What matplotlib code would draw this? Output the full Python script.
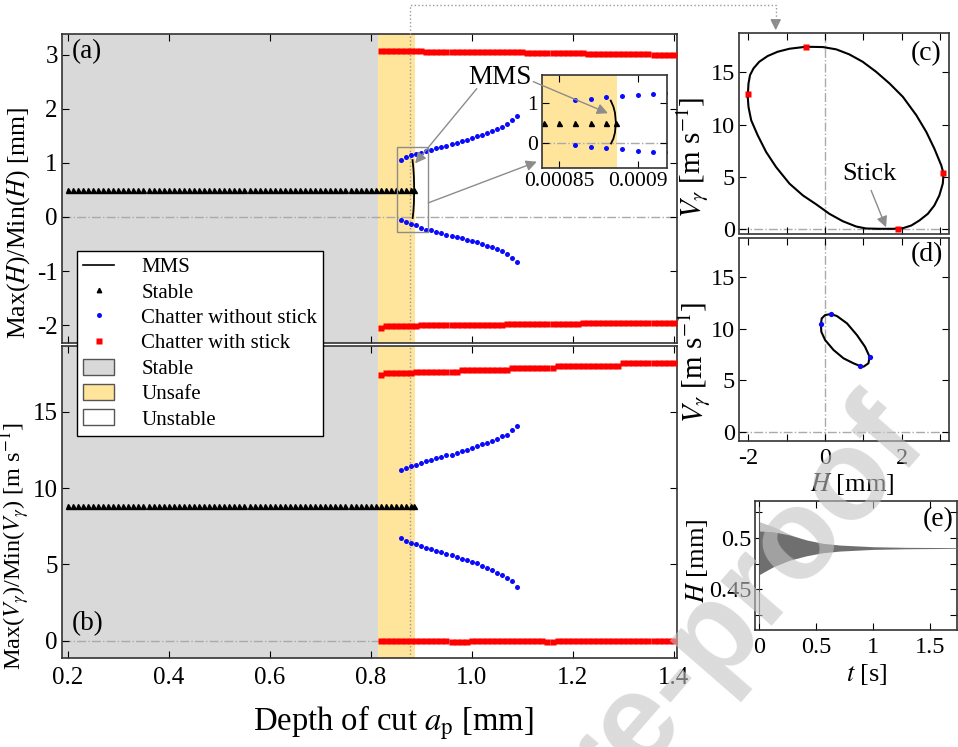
import numpy as np
import matplotlib
matplotlib.use('Agg')
import matplotlib.pyplot as plt
from matplotlib.lines import Line2D
from matplotlib.patches import Patch, Rectangle, FancyArrowPatch

plt.rcParams['font.family'] = ['Liberation Serif', 'DejaVu Serif']
plt.rcParams['mathtext.fontset'] = 'stix'
plt.rcParams['axes.unicode_minus'] = False
plt.rcParams['xtick.direction'] = 'in'
plt.rcParams['ytick.direction'] = 'in'
plt.rcParams['xtick.top'] = True
plt.rcParams['ytick.right'] = True

# ---------------- data ----------------
stable_ap = [0.20, 0.21, 0.22, 0.23, 0.24, 0.25, 0.26, 0.27, 0.28, 0.29,
             0.30, 0.31, 0.32, 0.33, 0.34, 0.35, 0.36, 0.37, 0.38, 0.39,
             0.40, 0.41, 0.42, 0.43, 0.44, 0.45, 0.46, 0.47, 0.48, 0.49,
             0.50, 0.51, 0.52, 0.53, 0.54, 0.55, 0.56, 0.57, 0.58, 0.59,
             0.60, 0.61, 0.62, 0.63, 0.64, 0.65, 0.66, 0.67, 0.68, 0.69,
             0.70, 0.71, 0.72, 0.73, 0.74, 0.75, 0.76, 0.77, 0.78, 0.79,
             0.80, 0.81, 0.82, 0.83, 0.84, 0.85, 0.86, 0.87, 0.88, 0.886]
stable_H = 0.50      # Max(H) = Min(H) for stable cutting [mm]
stable_V = 8.82      # Max(V) = Min(V) for stable cutting [m/s]

chatter_ap = [0.86, 0.87, 0.88, 0.89, 0.90, 0.91, 0.92, 0.93, 0.94, 0.95, 0.96, 0.97,
              0.98, 0.99, 1.00, 1.01, 1.02, 1.03, 1.04, 1.05, 1.06, 1.07, 1.08, 1.09]
chatter_Hmax = [1.06, 1.10, 1.14, 1.165, 1.19, 1.21, 1.245, 1.27, 1.30, 1.32, 1.34, 1.36,
                1.40, 1.42, 1.46, 1.49, 1.52, 1.55, 1.58, 1.62, 1.67, 1.71, 1.79, 1.87]
chatter_Hmin = [-0.06, -0.10, -0.135, -0.15, -0.20, -0.235, -0.245, -0.27, -0.295, -0.325, -0.35, -0.37,
                -0.39, -0.43, -0.45, -0.47, -0.50, -0.535, -0.56, -0.59, -0.635, -0.68, -0.75, -0.83]
chatter_Vmax = [11.15, 11.30, 11.46, 11.54, 11.61, 11.76, 11.85, 11.95, 12.06, 12.13, 12.17, 12.28,
                12.41, 12.52, 12.63, 12.72, 12.87, 12.96, 13.09, 13.24, 13.39, 13.50, 13.78, 14.09]
chatter_Vmin = [6.71, 6.56, 6.42, 6.34, 6.19, 6.08, 6.01, 5.88, 5.79, 5.71, 5.60, 5.49,
                5.34, 5.27, 5.14, 5.08, 4.92, 4.75, 4.62, 4.42, 4.29, 4.14, 3.92, 3.53]

stick_ap = [0.82, 0.83, 0.84, 0.85, 0.86, 0.87, 0.88, 0.89, 0.90,
            0.91, 0.92, 0.93, 0.94, 0.95, 0.96, 0.97, 0.98, 0.99, 1.00,
            1.01, 1.02, 1.03, 1.04, 1.05, 1.06, 1.07, 1.08, 1.09, 1.10,
            1.11, 1.12, 1.13, 1.14, 1.15, 1.16, 1.17, 1.18, 1.19, 1.20,
            1.21, 1.22, 1.23, 1.24, 1.25, 1.26, 1.27, 1.28, 1.29, 1.30,
            1.31, 1.32, 1.33, 1.34, 1.35, 1.36, 1.37, 1.38, 1.39, 1.40]
stick_Hmax = [3.07, 3.07, 3.07, 3.07, 3.07, 3.07, 3.07, 3.07, 3.07,
              3.05, 3.05, 3.05, 3.05, 3.05, 3.05, 3.05, 3.05, 3.05, 3.05,
              3.05, 3.05, 3.05, 3.05, 3.05, 3.05, 3.05, 3.05, 3.05, 3.05,
              3.03, 3.03, 3.03, 3.03, 3.03, 3.03, 3.03, 3.03, 3.03, 3.03,
              3.03, 3.03, 3.01, 3.01, 3.01, 3.01, 3.01, 3.01, 3.01, 3.01,
              3.01, 3.01, 3.01, 3.01, 3.01, 2.99, 2.99, 2.99, 2.99, 2.99]
stick_Hmin = [-2.05, -2.02, -2.02, -2.02, -2.02, -2.02, -2.02, -2.02, -2.00,
              -2.00, -2.00, -2.00, -2.00, -2.00, -2.00, -2.00, -2.00, -2.00, -2.00,
              -2.00, -2.00, -2.00, -2.00, -2.00, -2.00, -1.98, -1.98, -1.98, -1.98,
              -1.98, -1.98, -1.98, -1.98, -1.98, -1.98, -1.98, -1.98, -1.98, -1.98,
              -1.98, -1.96, -1.96, -1.96, -1.96, -1.96, -1.96, -1.96, -1.96, -1.96,
              -1.96, -1.96, -1.96, -1.96, -1.96, -1.96, -1.96, -1.96, -1.96, -1.96]
stick_Vmax = [17.42, 17.50, 17.50, 17.50, 17.50, 17.50, 17.50, 17.58, 17.58,
              17.58, 17.58, 17.58, 17.58, 17.58, 17.58, 17.58, 17.72, 17.72, 17.72,
              17.72, 17.72, 17.72, 17.72, 17.72, 17.72, 17.72, 17.86, 17.86, 17.86,
              17.86, 17.86, 17.86, 17.86, 17.86, 17.86, 18.02, 18.02, 18.02, 18.02,
              18.02, 18.02, 18.02, 18.02, 18.02, 18.02, 18.02, 18.02, 18.02, 18.20,
              18.20, 18.20, 18.20, 18.20, 18.20, 18.20, 18.20, 18.20, 18.20, 18.20]
stick_Vmin = [-0.04, -0.04, -0.04, -0.04, -0.04, -0.04, -0.04, -0.04, -0.04,
              -0.04, -0.04, -0.04, -0.04, -0.04, -0.07, -0.07, -0.07, -0.07, -0.04,
              -0.04, -0.04, -0.04, -0.04, -0.04, -0.04, -0.04, -0.04, -0.04, -0.04,
              -0.04, -0.04, -0.04, -0.04, -0.07, -0.07, -0.04, -0.04, -0.04, -0.04,
              -0.04, -0.04, -0.04, -0.04, -0.04, -0.04, -0.04, -0.04, -0.04, -0.04,
              -0.04, -0.04, -0.04, -0.04, -0.04, -0.04, -0.04, -0.04, -0.04, -0.04]

mms_ap = [0.8828, 0.8845, 0.8855, 0.8861, 0.8855, 0.8845, 0.8830]
mms_H = [1.05, 0.90, 0.75, 0.50, 0.25, 0.10, -0.02]

region_bounds = [0.814, 0.887]   # stable | unsafe | unstable

# (c) chatter with stick, phase portrait
orbit_c_H = [-2.02, -2.00, -1.96, -1.87, -1.72, -1.50, -1.24, -0.93, -0.50, -0.06, 0.29, 0.63,
             0.98, 1.33, 1.68, 2.03, 2.38, 2.64, 2.85, 3.03, 3.09, 3.07, 2.98, 2.85, 2.68,
             2.46, 2.25, 2.03, 1.77, 1.42, 1.07, 0.81, 0.46, 0.11, -0.23, -0.58, -0.93,
             -1.28, -1.54, -1.76, -1.93, -2.00, -2.02]
orbit_c_V = [12.65, 13.94, 14.74, 15.38, 16.02, 16.57, 16.98, 17.27, 17.46, 17.43, 17.21, 16.73,
             16.02, 15.06, 13.94, 12.65, 10.89, 9.29, 7.69, 6.09, 5.29, 4.33, 3.20, 2.24, 1.44,
             0.80, 0.32, 0.06, 0.0, 0.0, 0.03, 0.22, 0.73, 1.44, 2.34, 3.20, 4.33,
             5.92, 7.37, 8.97, 10.41, 11.69, 12.65]
poinc_c_H = [-2.02, -0.50, 1.90, 3.07]
poinc_c_V = [12.90, 17.46, 0.0, 5.38]

# (d) chatter without stick, phase portrait
orbit_d_H = [-0.11, -0.09, 0.0, 0.15, 0.31, 0.57, 0.83, 1.04, 1.16, 1.13, 1.00, 0.91,
             0.74, 0.48, 0.22, 0.0, -0.10, -0.11]
orbit_d_V = [10.40, 10.98, 11.30, 11.40, 11.20, 10.50, 9.37, 8.25, 7.28, 6.65, 6.32, 6.39,
             6.65, 7.13, 7.93, 8.89, 9.69, 10.40]
poinc_d_H = [-0.11, 0.15, 1.16, 0.91]
poinc_d_V = [10.40, 11.37, 7.28, 6.39]

# (e) stable time history: envelope of oscillation
env_t = [0.005, 0.125, 0.27, 0.42, 0.56, 0.71, 1.0, 1.29, 1.75]
env_upper = [0.5065, 0.5058, 0.5026, 0.4978, 0.4946, 0.4929, 0.4913, 0.4907, 0.4904]
env_lower = [0.4645, 0.4719, 0.4784, 0.4826, 0.4855, 0.4871, 0.4887, 0.4893, 0.4897]
trans_t = [0.005, 0.125, 0.27, 0.35]
trans_upper = [0.5155, 0.5107, 0.5033, 0.4998]
trans_lower = [0.4645, 0.4719, 0.4784, 0.4806]
spike_t = [0.004, 0.004]
spike_H = [0.417, 0.530]

# ---------------- style ----------------
C_GRAY = '#d9d9d9'
C_ORANGE = '#ffe49c'
C_BLUE = '#0a0aff'
C_RED = '#ff0000'
C_SPINE = '#333333'
C_ZERO = '#aaaaaa'
C_ARROW = '#8c8c8c'

fig = plt.figure(figsize=(9.58, 7.47), dpi=100)
W, H = 958.0, 747.0

def fx(px):
    return px / W

def fy(py):
    return 1 - py / H

ax_a = fig.add_axes([fx(62), fy(343), fx(677) - fx(62), fy(33.5) - fy(343)])
ax_b = fig.add_axes([fx(62), fy(658.3), fx(677) - fx(62), fy(346) - fy(658.3)])
ax_c = fig.add_axes([fx(739.3), fy(233.5), fx(949.3) - fx(739.3), fy(33.3) - fy(233.5)])
ax_d = fig.add_axes([fx(739.3), fy(441), fx(949.3) - fx(739.3), fy(238.3) - fy(441)])
ax_e = fig.add_axes([fx(755.3), fy(630), fx(957) - fx(755.3), fy(501) - fy(630)])
ax_in = fig.add_axes([fx(542.3), fy(167.7), fx(667.3) - fx(542.3), fy(75) - fy(167.7)])

def style(ax, size):
    for s in ax.spines.values():
        s.set_color(C_SPINE)
        s.set_linewidth(1.2)
    ax.tick_params(which='both', length=5, width=0.8, labelsize=size, colors='black')
    ax.tick_params(axis='x', pad=6)
    ax.tick_params(axis='y', pad=3)

# ---------- (a) and (b) ----------
for ax, smax, smin, cmax, cmin, slev in [
        (ax_a, stick_Hmax, stick_Hmin, chatter_Hmax, chatter_Hmin, stable_H),
        (ax_b, stick_Vmax, stick_Vmin, chatter_Vmax, chatter_Vmin, stable_V)]:
    ax.axvspan(0.0, region_bounds[0], color=C_GRAY, lw=0, zorder=0)
    ax.axvspan(region_bounds[0], region_bounds[1], color=C_ORANGE, lw=0, zorder=0)
    ax.axhline(0, color=C_ZERO, ls='-.', lw=1.0, zorder=1)
    ax.axvline(0.878, color='#999999', ls=':', lw=1.0, zorder=1)
    ax.plot(stable_ap, [slev] * len(stable_ap), ls='none', marker='^', ms=3.6,
            color='black', zorder=3)
    ax.plot(chatter_ap, cmax, ls='none', marker='o', ms=3.6, color=C_BLUE, mec='none', zorder=3)
    ax.plot(chatter_ap, cmin, ls='none', marker='o', ms=3.6, color=C_BLUE, mec='none', zorder=3)
    ax.plot(stick_ap, smax, ls='none', marker='s', ms=4.3, color=C_RED, mec='none', zorder=3)
    ax.plot(stick_ap, smin, ls='none', marker='s', ms=4.3, color=C_RED, mec='none', zorder=3)
    ax.set_xlim(0.1887, 1.4065)
    ax.set_xticks([0.2, 0.4, 0.6, 0.8, 1.0, 1.2, 1.4])
    style(ax, 18)

ax_a.plot(mms_ap, mms_H, color='black', lw=1.3, zorder=4)
ax_a.set_ylim(-2.33, 3.39)
ax_a.set_yticks([-2, -1, 0, 1, 2, 3])
ax_a.set_xticklabels([])
ax_b.set_ylim(-1.15, 19.3)
ax_b.set_yticks([0, 5, 10, 15])
ax_b.set_xticklabels(['0.2', '0.4', '0.6', '0.8', '1.0', '1.2', '1.4'])

ax_a.set_ylabel('Max($H$)/Min($H$) [mm]', fontsize=18.5)
ax_a.yaxis.set_label_coords(-0.049, 0.39)
ax_b.set_ylabel('Max($V_\\gamma$)/Min($V_\\gamma$) [m s$^{-1}$]', fontsize=17.5)
ax_b.yaxis.set_label_coords(-0.049, 0.36)
ax_b.set_xlabel('Depth of cut $a_\\mathrm{p}$ [mm]', fontsize=23.5)
ax_b.xaxis.label.set_verticalalignment('baseline')
ax_b.xaxis.set_label_coords(0.538, (658.3 - 731) / 312.3)

ax_a.text(0.041, 0.941, '(a)', transform=ax_a.transAxes, fontsize=19.5, ha='center', va='center')
ax_b.text(0.041, 0.112, '(b)', transform=ax_b.transAxes, fontsize=19.5, ha='center', va='center')

# inset box, MMS label and arrows
ax_a.add_patch(Rectangle((0.853, -0.28), 0.061, 1.58, fill=False, ec='#8c8c8c', lw=1.0, zorder=5))
ax_a.text(1.056, 2.58, 'MMS', fontsize=19.5, ha='center', va='center', zorder=6)
arrow_kw = dict(arrowstyle='-|>', color=C_ARROW, lw=1.0, mutation_scale=16, shrinkA=0, shrinkB=0)
ax_a.annotate('', xy=(0.888, 0.99), xytext=(1.010, 2.37), arrowprops=arrow_kw, zorder=6)
ax_a.annotate('', xy=(1.129, 1.02), xytext=(0.914, 0.26), arrowprops=arrow_kw, zorder=6)

# ---------- inset ----------
sc = 1e-3
ax_in.axvspan(region_bounds[0] * sc, region_bounds[1] * sc, color=C_ORANGE, lw=0, zorder=0)
ax_in.axhline(0, color=C_ZERO, ls='-.', lw=1.0, zorder=1)
ax_in.plot(np.array(stable_ap) * sc, [stable_H] * len(stable_ap), ls='none', marker='^', ms=3.6, color='black')
ax_in.plot(np.array(chatter_ap) * sc, chatter_Hmax, ls='none', marker='o', ms=3.6, color=C_BLUE, mec='none')
ax_in.plot(np.array(chatter_ap) * sc, chatter_Hmin, ls='none', marker='o', ms=3.6, color=C_BLUE, mec='none')
ax_in.plot(np.array(mms_ap) * sc, mms_H, color='black', lw=1.3)
ax_in.set_xlim(0.000839, 0.000919)
ax_in.set_ylim(-0.625, 1.69)
ax_in.set_xticks([0.00085, 0.0009])
ax_in.set_xticklabels(['0.00085', '0.0009'])
ax_in.set_yticks([0, 1])
ax_in.set_yticklabels(['0', '1'])
style(ax_in, 15.5)
ax_in.tick_params(axis='x', pad=3)
ax_in.annotate('', xy=(0.000881, 0.735), xycoords='data', xytext=(1.122, 2.50),
               textcoords=ax_a.transData, arrowprops=arrow_kw, annotation_clip=False)

# ---------- (c) / (d) common ----------
for ax in (ax_c, ax_d):
    ax.axhline(0, color=C_ZERO, ls='-.', lw=1.0, zorder=1)
    ax.axvline(0, color=C_ZERO, ls='-.', lw=1.0, zorder=1)
    ax.set_xlim(-2.24, 3.24)
    ax.set_xticks([-2, -1, 0, 1, 2, 3])
    ax.set_yticks([0, 5, 10, 15])
    style(ax, 17.5)

ax_c.plot(orbit_c_H, orbit_c_V, color='black', lw=1.5, zorder=3)
ax_c.plot(poinc_c_H, poinc_c_V, ls='none', marker='s', ms=4.5, color=C_RED, mec='none', zorder=4)
ax_c.set_ylim(-0.45, 18.75)
ax_c.set_xticklabels([])
ax_c.set_ylabel('$V_\\gamma$ [m s$^{-1}$]', fontsize=21)
ax_c.yaxis.set_label_coords(-0.135, 0.38)
ax_c.text(0.892, 0.90, '(c)', transform=ax_c.transAxes, fontsize=20, ha='center', va='center')
ax_c.text(1.16, 5.29, 'Stick', fontsize=19, ha='center', va='center')
ax_c.annotate('', xy=(1.59, 0.15), xytext=(1.20, 3.68), arrowprops=arrow_kw)

ax_d.plot(orbit_d_H, orbit_d_V, color='black', lw=1.5, zorder=3)
ax_d.plot(poinc_d_H, poinc_d_V, ls='none', marker='o', ms=3.8, color=C_BLUE, mec='none', zorder=4)
ax_d.set_ylim(-0.84, 18.7)
ax_d.set_xticklabels(['-2', '', '0', '', '2', ''])
ax_d.set_ylabel('$V_\\gamma$ [m s$^{-1}$]', fontsize=21)
ax_d.yaxis.set_label_coords(-0.125, 0.39)
ax_d.set_xlabel('$H$ [mm]', fontsize=19)
ax_d.xaxis.set_label_coords(0.54, -0.15)
ax_d.tick_params(axis='x', pad=5)
ax_d.text(0.892, 0.918, '(d)', transform=ax_d.transAxes, fontsize=20, ha='center', va='center')

# ---------- (e) ----------
ax_e.fill_between(trans_t, trans_lower, trans_upper, color='#c4c4c4', lw=0, zorder=2)
ax_e.fill_between(env_t, env_lower, env_upper, color='#6f6f6f', lw=0, zorder=3)
ax_e.plot(spike_t, spike_H, color='#555555', lw=0.8, zorder=3)
ax_e.set_xlim(-0.032, 1.735)
ax_e.set_ylim(0.4106, 0.5356)
ax_e.set_xticks([0, 0.5, 1, 1.5])
ax_e.set_xticklabels(['0', '0.5', '1', '1.5'])
ax_e.set_yticks([0.425, 0.45, 0.475, 0.5, 0.525])
ax_e.set_yticklabels(['', '0.45', '', '0.5', ''])
style(ax_e, 17.5)
ax_e.tick_params(axis='x', pad=5)
ax_e.set_ylabel('$H$ [mm]', fontsize=19)
ax_e.yaxis.set_label_coords(-0.225, 0.54)
ax_e.set_xlabel('$t$ [s]', fontsize=19)
ax_e.xaxis.set_label_coords(0.554, -0.25)
ax_e.text(0.906, 0.853, '(e)', transform=ax_e.transAxes, fontsize=20, ha='center', va='center')

# ---------- connector (a) -> (c) ----------
fig.add_artist(Line2D([fx(410), fx(410), fx(775.7), fx(775.7)],
                      [fy(34), fy(5), fy(5), fy(24)],
                      transform=fig.transFigure, color='#999999', ls=':', lw=1.0))
fig.add_artist(FancyArrowPatch(
    (fx(775.7), fy(20)), (fx(775.7), fy(33)), transform=fig.transFigure,
    arrowstyle='-|>', mutation_scale=16, color='#8c8c8c', lw=1.0))

# ---------- legend ----------
handles = [
    Line2D([], [], color='black', lw=1.2),
    Line2D([], [], ls='none', marker='^', ms=3.2, color='black'),
    Line2D([], [], ls='none', marker='o', ms=3.6, color=C_BLUE, mec='none'),
    Line2D([], [], ls='none', marker='s', ms=4.2, color=C_RED, mec='none'),
    Patch(facecolor=C_GRAY, edgecolor='#555555', lw=1.0),
    Patch(facecolor=C_ORANGE, edgecolor='#555555', lw=1.0),
    Patch(facecolor='white', edgecolor='#555555', lw=1.0),
]
labels = ['MMS', 'Stable', 'Chatter without stick', 'Chatter with stick',
          'Stable', 'Unsafe', 'Unstable']
leg = fig.legend(handles, labels, loc='upper left', bbox_to_anchor=(fx(76.7), fy(250.7)),
                 bbox_transform=fig.transFigure, fontsize=15, frameon=True, fancybox=False,
                 framealpha=1, edgecolor='black', borderaxespad=0, handlelength=1.5,
                 handleheight=0.8, handletextpad=1.3, labelspacing=0.25, borderpad=0.3)
leg.get_frame().set_linewidth(1.0)

# ---------- watermark ----------
fig.text(fx(930), fy(445), 'Journal Pre-proof', fontsize=92, fontweight='bold',
         family='Liberation Sans', color='#c4c4c4', alpha=0.6, rotation=49,
         rotation_mode='anchor', ha='right', va='baseline', zorder=100)

fig.savefig('out.png', dpi=100)
